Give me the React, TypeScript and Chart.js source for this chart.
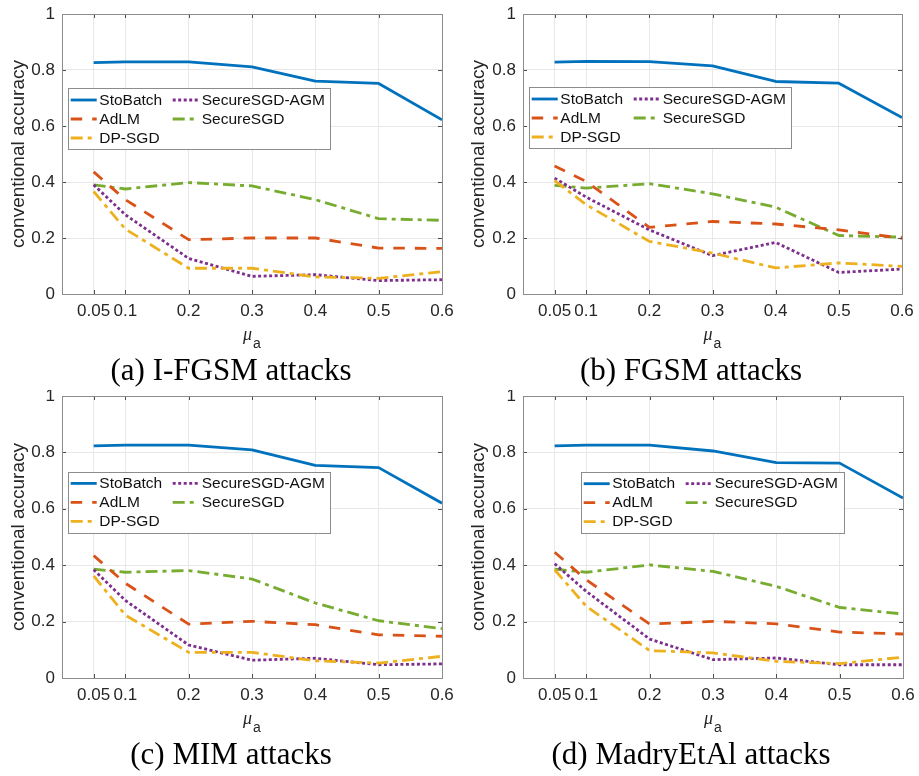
import React, { useEffect, useRef } from 'react';
import { Chart, registerables } from 'chart.js';

Chart.register(...registerables);

// ---------- data ----------
const muValues = [0.05, 0.1, 0.2, 0.3, 0.4, 0.5, 0.6];
const xTickValues = [0.05, 0.1, 0.2, 0.3, 0.4, 0.5, 0.6];
const yTickValues = [0, 0.2, 0.4, 0.6, 0.8, 1];
const seriesNames = ['StoBatch', 'AdLM', 'DP-SGD', 'SecureSGD-AGM', 'SecureSGD'];
const panelCaptions = ['(a) I-FGSM attacks', '(b) FGSM attacks', '(c) MIM attacks', '(d) MadryEtAl attacks'];
const yAxisTitle = 'conventional accuracy';
const xAxisSymbol = 'μ';
const xAxisSub = 'a';

// (a) I-FGSM
const ifgsmStoBatch = [0.826, 0.829, 0.829, 0.811, 0.760, 0.752, 0.622];
const ifgsmAdLM = [0.436, 0.337, 0.194, 0.200, 0.200, 0.164, 0.163];
const ifgsmDPSGD = [0.366, 0.232, 0.092, 0.092, 0.061, 0.056, 0.080];
const ifgsmAGM = [0.390, 0.283, 0.127, 0.063, 0.069, 0.048, 0.051];
const ifgsmSecureSGD = [0.390, 0.375, 0.398, 0.386, 0.337, 0.269, 0.263];

// (b) FGSM
const fgsmStoBatch = [0.828, 0.831, 0.830, 0.815, 0.759, 0.753, 0.630];
const fgsmAdLM = [0.457, 0.402, 0.238, 0.259, 0.250, 0.229, 0.199];
const fgsmDPSGD = [0.405, 0.319, 0.188, 0.146, 0.093, 0.111, 0.099];
const fgsmAGM = [0.414, 0.346, 0.229, 0.137, 0.184, 0.077, 0.089];
const fgsmSecureSGD = [0.388, 0.378, 0.394, 0.358, 0.310, 0.209, 0.203];

// (c) MIM
const mimStoBatch = [0.823, 0.826, 0.826, 0.809, 0.754, 0.746, 0.620];
const mimAdLM = [0.434, 0.336, 0.191, 0.201, 0.189, 0.153, 0.148];
const mimDPSGD = [0.362, 0.223, 0.091, 0.091, 0.061, 0.053, 0.077];
const mimAGM = [0.384, 0.275, 0.117, 0.063, 0.070, 0.047, 0.050];
const mimSecureSGD = [0.386, 0.375, 0.381, 0.351, 0.266, 0.203, 0.175];

// (d) MadryEtAl
const madryStoBatch = [0.823, 0.826, 0.826, 0.805, 0.764, 0.762, 0.638];
const madryAdLM = [0.446, 0.348, 0.191, 0.201, 0.192, 0.163, 0.156];
const madryDPSGD = [0.384, 0.254, 0.097, 0.089, 0.059, 0.051, 0.074];
const madryAGM = [0.405, 0.307, 0.138, 0.065, 0.071, 0.047, 0.047];
const madrySecureSGD = [0.386, 0.375, 0.401, 0.378, 0.325, 0.250, 0.227];

const panelSeries = [
  [ifgsmStoBatch, ifgsmAdLM, ifgsmDPSGD, ifgsmAGM, ifgsmSecureSGD],
  [fgsmStoBatch, fgsmAdLM, fgsmDPSGD, fgsmAGM, fgsmSecureSGD],
  [mimStoBatch, mimAdLM, mimDPSGD, mimAGM, mimSecureSGD],
  [madryStoBatch, madryAdLM, madryDPSGD, madryAGM, madrySecureSGD],
];

// ---------- styles / layout ----------
const seriesStyles = [
  { color: '#0072BD', dash: [] as number[], width: 2.8 },
  { color: '#D95319', dash: [11.5, 10], width: 2.8 },
  { color: '#EDB120', dash: [12, 5, 4, 5], width: 2.8 },
  { color: '#7E2F8E', dash: [3, 2.5], width: 2.8 },
  { color: '#77AC30', dash: [12, 5, 4, 5], width: 2.8 },
];

const panelLayouts = [
  { left: 0, top: 0, w: 460, h: 390, plot: [62, 14, 442, 294], legend: [5.7, 74.3, 262, 61] },
  { left: 460, top: 0, w: 459, h: 390, plot: [63, 14, 442, 294], legend: [5.7, 73.3, 262, 61] },
  { left: 0, top: 390, w: 460, h: 386, plot: [62, 6, 442, 288], legend: [5.7, 75.7, 262, 61] },
  { left: 460, top: 390, w: 459, h: 386, plot: [63, 6, 443, 288], legend: [57.7, 76, 262.6, 61] },
];

const SANS = '"Liberation Sans", Arial, Helvetica, sans-serif';
const SERIF = '"Liberation Serif", "Times New Roman", serif';
const TEXT = '#262626';
const X_SCALE_H = 30;

const decorPlugin = {
  id: 'panelDecor',
  afterDatasetsDraw(chart: any, _args: any, opts: any) {
    const { ctx, chartArea: ca } = chart;
    const xs = chart.scales.x;
    const ys = chart.scales.y;
    ctx.save();
    ctx.setLineDash([]);
    // inward tick marks
    ctx.strokeStyle = '#4d4d4d';
    ctx.lineWidth = 1;
    ctx.beginPath();
    xs.ticks.forEach((t: any) => {
      const px = Math.round(xs.getPixelForValue(t.value)) + 0.5;
      ctx.moveTo(px, ca.bottom);
      ctx.lineTo(px, ca.bottom - 4);
      ctx.moveTo(px, ca.top);
      ctx.lineTo(px, ca.top + 4);
    });
    ys.ticks.forEach((t: any) => {
      const py = Math.round(ys.getPixelForValue(t.value)) + 0.5;
      ctx.moveTo(ca.left, py);
      ctx.lineTo(ca.left + 4, py);
      ctx.moveTo(ca.right, py);
      ctx.lineTo(ca.right - 4, py);
    });
    ctx.stroke();
    // axes box
    ctx.strokeStyle = '#8c8c8c';
    ctx.strokeRect(Math.round(ca.left) + 0.5, Math.round(ca.top) + 0.5, Math.round(ca.width), Math.round(ca.height));

    // legend box
    const [dx, dy, lw, lh] = opts.legend;
    const bx = ca.left + dx;
    const by = ca.top + dy;
    ctx.fillStyle = '#ffffff';
    ctx.fillRect(bx, by, lw, lh);
    ctx.strokeStyle = '#8c8c8c';
    ctx.lineWidth = 1;
    ctx.strokeRect(Math.round(bx) + 0.5, Math.round(by) + 0.5, Math.round(lw), Math.round(lh));
    ctx.font = '15.5px ' + SANS;
    ctx.textBaseline = 'middle';
    ctx.textAlign = 'left';
    chart.data.datasets.forEach((ds: any, i: number) => {
      const col = Math.floor(i / 3);
      const row = i % 3;
      const lx = bx + (col === 0 ? 3 : 105);
      const tx = bx + (col === 0 ? 31.6 : 134);
      const ly = by + 11.7 + row * 19;
      ctx.save();
      ctx.strokeStyle = ds.borderColor;
      ctx.lineWidth = ds.borderWidth;
      ctx.setLineDash(ds.borderDash || []);
      ctx.lineCap = 'butt';
      ctx.beginPath();
      ctx.moveTo(lx, ly);
      ctx.lineTo(lx + 26, ly);
      ctx.stroke();
      ctx.restore();
      ctx.fillStyle = '#111111';
      ctx.fillText(ds.label, tx, ly + 0.5);
    });
    ctx.restore();
  },
  afterDraw(chart: any, _args: any, opts: any) {
    const { ctx, chartArea: ca } = chart;
    ctx.save();
    ctx.fillStyle = TEXT;
    ctx.textBaseline = 'alphabetic';
    // x-axis title: mu with subscript a
    const cx = (ca.left + ca.right) / 2;
    ctx.font = 'italic 18px ' + SERIF;
    const wMu = ctx.measureText(xAxisSymbol).width;
    ctx.font = '14px ' + SANS;
    const wSub = ctx.measureText(xAxisSub).width;
    const start = cx - (wMu + wSub + 1) / 2;
    ctx.textAlign = 'left';
    ctx.font = 'italic 18px ' + SERIF;
    ctx.fillText(xAxisSymbol, start, ca.bottom + 46);
    ctx.font = '14px ' + SANS;
    ctx.fillText(xAxisSub, start + wMu + 1, ca.bottom + 54);
    // caption
    ctx.fillStyle = '#000000';
    ctx.font = '31px ' + SERIF;
    ctx.textAlign = 'center';
    ctx.fillText(opts.caption, 231, ca.bottom + 86);
    ctx.restore();
  },
};

function Panel({ index }: { index: number }) {
  const ref = useRef<HTMLCanvasElement | null>(null);
  const lay = panelLayouts[index];
  useEffect(() => {
    if (!ref.current) return;
    const [pl, pt, pr, pb] = lay.plot;
    const datasets = seriesNames.map((name, i) => ({
      label: name,
      data: muValues.map((x, k) => ({ x, y: panelSeries[index][i][k] })),
      borderColor: seriesStyles[i].color,
      backgroundColor: seriesStyles[i].color,
      borderWidth: seriesStyles[i].width,
      borderDash: seriesStyles[i].dash,
      borderCapStyle: 'butt',
      borderJoinStyle: 'round',
      pointRadius: 0,
      pointHoverRadius: 0,
      tension: 0,
      fill: false,
    }));
    const chart = new Chart(ref.current, {
      type: 'line',
      data: { datasets } as any,
      options: {
        animation: false,
        responsive: false,
        maintainAspectRatio: false,
        events: [],
        layout: {
          padding: { left: 0, top: pt, right: lay.w - pr, bottom: lay.h - pb - X_SCALE_H },
        },
        plugins: {
          legend: { display: false },
          tooltip: { enabled: false },
          panelDecor: { legend: lay.legend, caption: panelCaptions[index] },
        } as any,
        scales: {
          x: {
            type: 'linear',
            min: 0,
            max: 0.6,
            afterBuildTicks: (s: any) => {
              s.ticks = xTickValues.map((v) => ({ value: v }));
            },
            afterFit: (s: any) => {
              s.height = X_SCALE_H;
              s.paddingLeft = 0;
              s.paddingRight = 0;
            },
            ticks: {
              autoSkip: false,
              maxRotation: 0,
              minRotation: 0,
              padding: 7,
              color: TEXT,
              font: { family: SANS, size: 17 },
              callback: (v: any) => String(v),
            },
            grid: { color: '#e8e8e8', lineWidth: 1, drawTicks: false },
            border: { display: false },
          },
          y: {
            type: 'linear',
            min: 0,
            max: 1,
            afterBuildTicks: (s: any) => {
              s.ticks = yTickValues.map((v) => ({ value: v }));
            },
            afterFit: (s: any) => {
              s.width = pl;
              s.paddingTop = 0;
              s.paddingBottom = 0;
            },
            ticks: {
              padding: 7,
              color: TEXT,
              font: { family: SANS, size: 17 },
              callback: (v: any) => String(v),
            },
            grid: { color: '#e8e8e8', lineWidth: 1, drawTicks: false },
            border: { display: false },
            title: {
              display: true,
              text: yAxisTitle,
              color: TEXT,
              font: { family: SANS, size: 19, lineHeight: 1.2 },
              padding: { top: 7.6, bottom: 0 },
            },
          },
        },
      } as any,
      plugins: [decorPlugin as any],
    });
    return () => chart.destroy();
  }, [index]);
  return (
    <div style={{ position: 'absolute', left: lay.left, top: lay.top, width: lay.w, height: lay.h }}>
      <canvas ref={ref} width={lay.w} height={lay.h} style={{ width: lay.w, height: lay.h, display: 'block' }} />
    </div>
  );
}

export default function App() {
  return (
    <div style={{ position: 'absolute', left: 0, top: 0, width: 919, height: 776, background: '#ffffff', overflow: 'hidden' }}>
      {panelLayouts.map((_, i) => (
        <Panel key={i} index={i} />
      ))}
    </div>
  );
}
